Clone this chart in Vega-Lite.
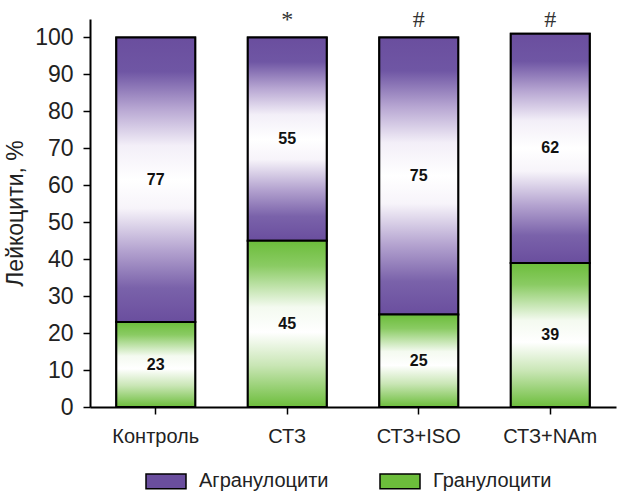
{
  "$schema": "https://vega.github.io/schema/vega-lite/v6.json",
  "width": 526,
  "height": 388,
  "autosize": "none",
  "padding": {"left": 90, "top": 19, "right": 1, "bottom": 89},
  "config": {"view": {"stroke": null}, "font": "Liberation Sans", "background": "white", "axisY": {"labelOverlap": false, "tickCount": 11}},
  "data": {
    "values": [
      {"group": "Контроль", "type": "Гранулоцити", "value": 23, "note": ""},
      {"group": "Контроль", "type": "Агранулоцити", "value": 77, "note": ""},
      {"group": "СТЗ", "type": "Гранулоцити", "value": 45, "note": ""},
      {"group": "СТЗ", "type": "Агранулоцити", "value": 55, "note": "*"},
      {"group": "СТЗ+ISO", "type": "Гранулоцити", "value": 25, "note": ""},
      {"group": "СТЗ+ISO", "type": "Агранулоцити", "value": 75, "note": "#"},
      {"group": "СТЗ+NAm", "type": "Гранулоцити", "value": 39, "note": ""},
      {"group": "СТЗ+NAm", "type": "Агранулоцити", "value": 62, "note": "#"}
    ]
  },
  "transform": [
    {"stack": "value", "groupby": ["group"], "sort": [{"field": "type", "order": "descending"}], "as": ["y0", "y1"]},
    {"calculate": "(datum.y0 + datum.y1) / 2", "as": "ymid"}
  ],
  "layer": [
    {
      "mark": {"type": "bar", "stroke": "black", "strokeWidth": 2},
      "encoding": {
        "x": {
          "field": "group", "type": "nominal", "sort": null,
          "scale": {"paddingInner": 0.4, "paddingOuter": 0.2},
          "axis": {
            "title": null, "labelAngle": 0, "labelFontSize": 20, "labelColor": "#222",
            "labelPadding": 12, "domainColor": "black", "domainWidth": 2,
            "tickColor": "black", "tickWidth": 1.5, "tickSize": 7
          }
        },
        "y": {
          "field": "y0", "type": "quantitative",
          "scale": {"domain": [0, 105], "nice": false},
          "axis": {
            "title": "Лейкоцити, %", "titleFontSize": 23, "titleFontWeight": "normal",
            "titleColor": "#222", "titlePadding": 7,
            "values": [0, 10, 20, 30, 40, 50, 60, 70, 80, 90, 100],
            "labelOverlap": false,
            "labelFontSize": 23, "labelColor": "#222", "labelPadding": 10,
            "grid": false, "domainColor": "black", "domainWidth": 2,
            "tickColor": "black", "tickWidth": 1.5, "tickSize": 7
          }
        },
        "y2": {"field": "y1"},
        "color": {
          "field": "type", "type": "nominal",
          "scale": {"domain": ["Агранулоцити", "Гранулоцити"], "range": ["#6a4e9e", "#6cbd3b"]},
          "legend": {
            "title": null, "orient": "none", "direction": "horizontal",
            "legendX": 55, "legendY": 441,
            "labelFontSize": 20, "labelColor": "#222", "labelOffset": 12,
            "symbolType": "M-1,-0.37H1V0.37H-1Z", "symbolSize": 1600,
            "symbolStrokeColor": "black", "symbolStrokeWidth": 1.5, "symbolOpacity": 1,
            "columnPadding": 48
          }
        }
      }
    },
    {
      "transform": [{"filter": "datum.type === 'Агранулоцити'"}],
      "mark": {"type": "bar", "stroke": "black", "strokeWidth": 2, "color": {"gradient": "linear", "x1": 0, "y1": 0, "x2": 0, "y2": 1, "stops": [
        {"offset": 0, "color": "#6a4e9e"},
        {"offset": 0.12, "color": "#6f56a4"},
        {"offset": 0.25, "color": "#b7a6d2"},
        {"offset": 0.38, "color": "#f3eff8"},
        {"offset": 0.5, "color": "#ffffff"},
        {"offset": 0.6, "color": "#f7f4fa"},
        {"offset": 0.75, "color": "#b3a2cf"},
        {"offset": 0.88, "color": "#7a62aa"},
        {"offset": 1, "color": "#6a4e9e"}
      ]}},
      "encoding": {
        "x": {"field": "group", "type": "nominal", "sort": null},
        "y": {"field": "y0", "type": "quantitative", "axis": {
            "title": "Лейкоцити, %", "titleFontSize": 23, "titleFontWeight": "normal",
            "titleColor": "#222", "titlePadding": 7,
            "values": [0, 10, 20, 30, 40, 50, 60, 70, 80, 90, 100],
            "labelOverlap": false,
            "labelFontSize": 23, "labelColor": "#222", "labelPadding": 10,
            "grid": false, "domainColor": "black", "domainWidth": 2,
            "tickColor": "black", "tickWidth": 1.5, "tickSize": 7
          }},
        "y2": {"field": "y1"}
      }
    },
    {
      "transform": [{"filter": "datum.type === 'Гранулоцити'"}],
      "mark": {"type": "bar", "stroke": "black", "strokeWidth": 2, "color": {"gradient": "linear", "x1": 0, "y1": 0, "x2": 0, "y2": 1, "stops": [
        {"offset": 0, "color": "#6cbd3b"},
        {"offset": 0.15, "color": "#8acb63"},
        {"offset": 0.4, "color": "#f4faf0"},
        {"offset": 0.55, "color": "#ffffff"},
        {"offset": 0.75, "color": "#c9e6b5"},
        {"offset": 1, "color": "#6cbd3b"}
      ]}},
      "encoding": {
        "x": {"field": "group", "type": "nominal", "sort": null},
        "y": {"field": "y0", "type": "quantitative", "axis": {
            "title": "Лейкоцити, %", "titleFontSize": 23, "titleFontWeight": "normal",
            "titleColor": "#222", "titlePadding": 7,
            "values": [0, 10, 20, 30, 40, 50, 60, 70, 80, 90, 100],
            "labelOverlap": false,
            "labelFontSize": 23, "labelColor": "#222", "labelPadding": 10,
            "grid": false, "domainColor": "black", "domainWidth": 2,
            "tickColor": "black", "tickWidth": 1.5, "tickSize": 7
          }},
        "y2": {"field": "y1"}
      }
    },
    {
      "mark": {"type": "text", "fontWeight": "bold", "fontSize": 16, "color": "#111"},
      "encoding": {
        "x": {"field": "group", "type": "nominal", "sort": null},
        "y": {"field": "ymid", "type": "quantitative", "axis": {
            "title": "Лейкоцити, %", "titleFontSize": 23, "titleFontWeight": "normal",
            "titleColor": "#222", "titlePadding": 7,
            "values": [0, 10, 20, 30, 40, 50, 60, 70, 80, 90, 100],
            "labelOverlap": false,
            "labelFontSize": 23, "labelColor": "#222", "labelPadding": 10,
            "grid": false, "domainColor": "black", "domainWidth": 2,
            "tickColor": "black", "tickWidth": 1.5, "tickSize": 7
          }},
        "text": {"field": "value", "type": "quantitative"}
      }
    },
    {
      "transform": [{"filter": "datum.note !== ''"}],
      "mark": {"type": "text", "fontSize": 24, "font": "Liberation Serif", "color": "#333", "baseline": "middle"},
      "encoding": {
        "x": {"field": "group", "type": "nominal", "sort": null},
        "y": {"datum": 104.6, "type": "quantitative", "axis": {
            "title": "Лейкоцити, %", "titleFontSize": 23, "titleFontWeight": "normal",
            "titleColor": "#222", "titlePadding": 7,
            "values": [0, 10, 20, 30, 40, 50, 60, 70, 80, 90, 100],
            "labelOverlap": false,
            "labelFontSize": 23, "labelColor": "#222", "labelPadding": 10,
            "grid": false, "domainColor": "black", "domainWidth": 2,
            "tickColor": "black", "tickWidth": 1.5, "tickSize": 7
          }},
        "text": {"field": "note"}
      }
    }
  ]
}
